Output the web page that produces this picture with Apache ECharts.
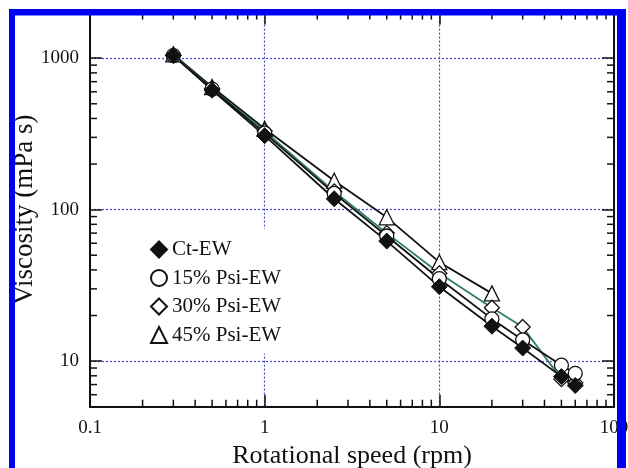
<!DOCTYPE html>
<html>
<head>
<meta charset="utf-8">
<script src="https://cdn.jsdelivr.net/npm/echarts@6/dist/echarts.min.js"></script>
<style>
  html, body { margin: 0; padding: 0; background: #fff; }
  #chart { width: 628px; height: 468px; }
</style>
</head>
<body>
<div id="chart"></div>
<script>
// rotational speed (rpm)
const speeds = [0.3, 0.5, 1, 2.5, 5, 10, 20, 30, 50, 60];
const speeds45 = [0.3, 0.5, 1, 2.5, 5, 10, 20];

// viscosity (mPa s)
const ctEW   = [1040, 615, 308, 118, 62, 31, 17, 12.2, 7.9, 6.9];
const psi15  = [1040, 625, 320, 128, 67, 35, 19, 13.8, 9.4, 8.3];
const psi30  = [1050, 630, 330, 132, 70, 38, 22.5, 16.8, 7.6, 7.2];
const psi45  = [1060, 645, 342, 155, 89, 45, 28];

const names = ['Ct-EW', '15% Psi-EW', '30% Psi-EW', '45% Psi-EW'];

// axis labels / ticks
const xTickLabels = [0.1, 1, 10, 100];
const yTickLabels = [10, 100, 1000];
const xMinor = [0.2, 0.3, 0.4, 0.5, 0.6, 0.7, 0.8, 0.9, 2, 3, 4, 5, 6, 7, 8, 9, 20, 30, 40, 50, 60, 70, 80, 90];
const yMinor = [6, 7, 8, 9, 20, 30, 40, 50, 60, 70, 80, 90, 200, 300, 400, 500, 600, 700, 800, 900];

const font = 'Liberation Serif';
const ink = '#111';

function pairs(xs, ys) {
  return ys.map((v, i) => [xs[i], v]);
}

function tickFmt(list) {
  return function (v) {
    for (let t of list) {
      if (Math.abs(v - t) / t < 1e-6) return String(t);
    }
    return '';
  };
}

let chart = echarts.init(document.getElementById('chart'));

function axisLine() {
  return { show: true, onZero: false, lineStyle: { color: ink, width: 2 } };
}
function majorTick() {
  return { show: true, inside: true, length: 12, lineStyle: { color: ink, width: 1.5 } };
}
function gridLine() {
  return { show: true, lineStyle: { color: '#4848d0', type: [2, 2], width: 1.2 } };
}

const option = {
  animation: false,
  grid: { left: 90, right: 14, top: 12.6, bottom: 61.3, outerBoundsMode: 'none' },
  xAxis: [
    {
      type: 'log', logBase: 10, min: 0.1, max: 100, position: 'bottom',
      axisLine: axisLine(), axisTick: majorTick(), splitLine: gridLine(),
      axisLabel: { formatter: tickFmt(xTickLabels), margin: 12, color: ink, fontFamily: font, fontSize: 19 },
      name: 'Rotational speed (rpm)', nameLocation: 'middle', nameGap: 36,
      nameTextStyle: { color: ink, fontFamily: font, fontSize: 26 }
    },
    {
      type: 'log', logBase: 10, min: 0.1, max: 100, position: 'top',
      axisLine: axisLine(), axisTick: majorTick(), splitLine: { show: false },
      axisLabel: { show: false }
    }
  ],
  yAxis: [
    {
      type: 'log', logBase: 10, min: 5, max: 2000, position: 'left',
      axisLine: axisLine(), axisTick: majorTick(), splitLine: gridLine(),
      axisLabel: { formatter: tickFmt(yTickLabels), margin: 11, color: ink, fontFamily: font, fontSize: 19 },
      name: 'Viscosity (mPa s)', nameLocation: 'middle', nameGap: 52, nameMoveOverlap: false,
      nameTextStyle: { color: ink, fontFamily: font, fontSize: 27 }
    },
    {
      type: 'log', logBase: 10, min: 5, max: 2000, position: 'right',
      axisLine: axisLine(), axisTick: majorTick(), splitLine: { show: false },
      axisLabel: { show: false }
    }
  ],
  legend: {
    orient: 'vertical', left: 142, top: 229,
    itemWidth: 16, itemHeight: 16, itemGap: 7.5,
    padding: [10, 12, 8, 8],
    backgroundColor: '#fff',
    textStyle: { color: ink, fontFamily: font, fontSize: 21, lineHeight: 20 },
    data: [
      { name: names[0], icon: 'diamond' },
      { name: names[1], icon: 'circle' },
      { name: names[2], icon: 'diamond' },
      { name: names[3], icon: 'triangle' }
    ]
  },
  series: [
    {
      // minor ticks along x (bottom and top)
      type: 'custom', silent: true, z: 3,
      data: xMinor.map(v => [v, 10]),
      renderItem: function (params, api) {
        let cs = params.coordSys;
        let x = api.coord([api.value(0), api.value(1)])[0];
        let st = { stroke: ink, lineWidth: 1.5 };
        return {
          type: 'group', children: [
            { type: 'line', shape: { x1: x, y1: cs.y + cs.height, x2: x, y2: cs.y + cs.height - 7 }, style: st },
            { type: 'line', shape: { x1: x, y1: cs.y, x2: x, y2: cs.y + 7 }, style: st }
          ]
        };
      }
    },
    {
      // minor ticks along y (left and right)
      type: 'custom', silent: true, z: 3,
      data: yMinor.map(v => [1, v]),
      renderItem: function (params, api) {
        let cs = params.coordSys;
        let y = api.coord([api.value(0), api.value(1)])[1];
        let st = { stroke: ink, lineWidth: 1.5 };
        return {
          type: 'group', children: [
            { type: 'line', shape: { x1: cs.x, y1: y, x2: cs.x + 7, y2: y }, style: st },
            { type: 'line', shape: { x1: cs.x + cs.width, y1: y, x2: cs.x + cs.width - 7, y2: y }, style: st }
          ]
        };
      }
    },
    {
      name: names[3], type: 'line', data: pairs(speeds45, psi45),
      symbol: 'triangle', symbolSize: 15,
      lineStyle: { color: ink, width: 1.8 },
      itemStyle: { color: '#fff', borderColor: ink, borderWidth: 1.3 }
    },
    {
      name: names[2], type: 'line', data: pairs(speeds, psi30),
      symbol: 'diamond', symbolSize: 15,
      lineStyle: { color: '#2c7d6c', width: 1.8 },
      itemStyle: { color: '#fff', borderColor: ink, borderWidth: 1.3 }
    },
    {
      name: names[1], type: 'line', data: pairs(speeds, psi15),
      symbol: 'circle', symbolSize: 14,
      lineStyle: { color: ink, width: 1.8 },
      itemStyle: { color: '#fff', borderColor: ink, borderWidth: 1.3 }
    },
    {
      name: names[0], type: 'line', data: pairs(speeds, ctEW),
      symbol: 'diamond', symbolSize: 16,
      lineStyle: { color: ink, width: 1.8 },
      itemStyle: { color: ink, borderColor: ink, borderWidth: 1 }
    }
  ],
  graphic: [
    { type: 'rect', z: 100, shape: { x: 9, y: 9, width: 6, height: 470 }, style: { fill: '#0000f8' } },
    { type: 'rect', z: 100, shape: { x: 9, y: 9, width: 617, height: 6.5 }, style: { fill: '#0000f8' } },
    { type: 'rect', z: 100, shape: { x: 617, y: 9, width: 9, height: 470 }, style: { fill: '#0000f8' } }
  ]
};

chart.setOption(option);
window.onresize = chart.resize;
</script>
</body>
</html>
